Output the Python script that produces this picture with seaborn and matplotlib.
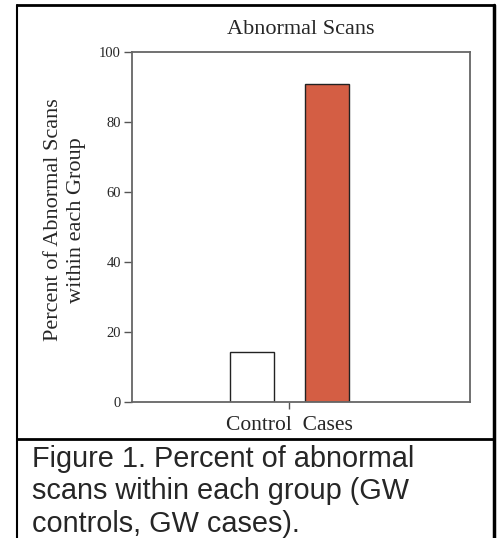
import pandas as pd
import seaborn as sns
import matplotlib.pyplot as plt
from matplotlib.lines import Line2D

# =======================
# Data
# =======================
groups = ["Control", "Cases"]
percent_abnormal = [14.3, 90.9]
bar_colors = ["#FFFFFF", "#D45E44"]
category = ["Control  Cases"] * len(groups)

caption_lines = [
    "Figure 1. Percent of abnormal",
    "scans within each group (GW",
    "controls, GW cases).",
]

df = pd.DataFrame({"cat": category, "group": groups, "pct": percent_abnormal})

# =======================
# Figure
# =======================
sns.set_style("white")
plt.rcParams["font.family"] = ["Liberation Serif", "DejaVu Serif"]

fig = plt.figure(figsize=(5.02, 5.38), dpi=100)
ax = fig.add_axes([0.263, 0.2528, 0.673, 0.6505])

sns.barplot(data=df, x="cat", y="pct", hue="group", hue_order=groups,
            palette=dict(zip(groups, bar_colors)), saturation=1, gap=0.41,
            edgecolor="#222222", linewidth=1.0, legend=False, ax=ax)

ax.set_ylim(0, 100)
ax.set_xlim(-0.84, 0.965)
ax.set_yticks([0, 20, 40, 60, 80, 100])
ax.tick_params(axis="y", direction="out", length=6, width=1, color="#555555",
               labelsize=10.5, pad=2, left=True)
ax.tick_params(axis="x", direction="out", length=5, width=1, color="#555555",
               labelsize=15.5, pad=5, bottom=True)
for s in ax.spines.values():
    s.set_color("#666666")
    s.set_linewidth(1.3)

ax.set_xlabel("")
ax.set_ylabel("Percent of Abnormal Scans\nwithin each Group", fontsize=16, linespacing=1.3)
ax.yaxis.set_label_coords(-0.135, 0.52)
ax.set_title("Abnormal Scans", fontsize=16, pad=13)

# =======================
# Outer frame + caption
# =======================
W, H = 502, 538
def fx(px):
    return px / W
def fy(py):
    return 1 - py / H

frame = [
    ((17, 17), (5, 540), 1.5),
    ((494, 494), (5, 540), 2.5),
    ((17, 494), (5, 5), 2),
    ((17, 494), (439, 439), 2),
]
for (xs, ys, lw) in frame:
    fig.add_artist(Line2D([fx(x) for x in xs], [fy(y) for y in ys],
                          color="black", linewidth=lw))

for line, base in zip(caption_lines, [467, 499, 532]):
    fig.text(fx(32), fy(base), line, fontsize=20.8, va="baseline", ha="left",
             family=["Liberation Sans", "DejaVu Sans"])

fig.savefig("out.png", dpi=100)
